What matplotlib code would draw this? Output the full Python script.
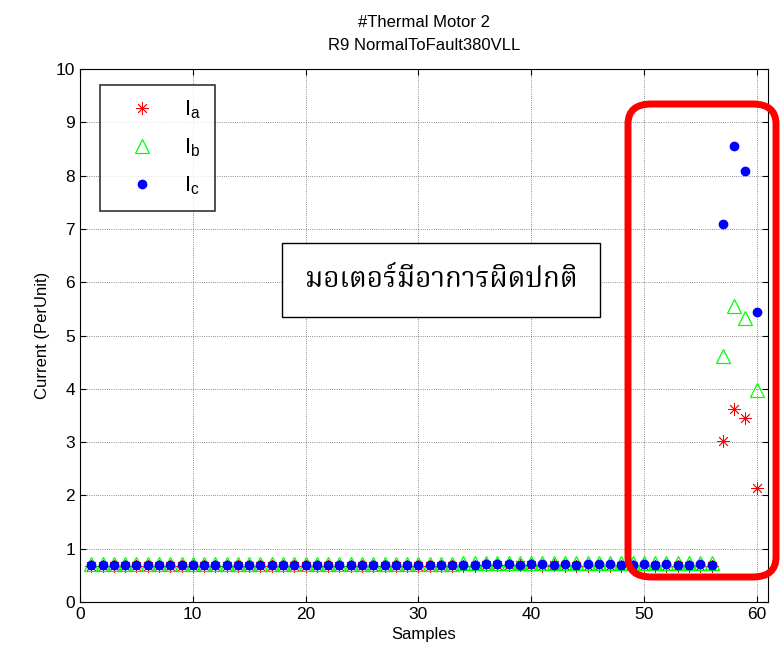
import numpy as np
import matplotlib
matplotlib.use('Agg')
from matplotlib import pyplot as plt
from matplotlib.patches import FancyBboxPatch

# samples 1..60, normal up to 56 then fault
samples = np.arange(1, 61)
ia = [0.67, 0.67, 0.67, 0.67, 0.67, 0.67, 0.67, 0.67, 0.67, 0.67,
      0.67, 0.67, 0.67, 0.67, 0.67, 0.67, 0.67, 0.67, 0.67, 0.67,
      0.67, 0.67, 0.67, 0.67, 0.67, 0.67, 0.67, 0.67, 0.67, 0.67,
      0.67, 0.67, 0.68, 0.68, 0.68, 0.69, 0.69, 0.69, 0.69, 0.69,
      0.68, 0.69, 0.68, 0.68, 0.68, 0.68, 0.68, 0.68, 0.68, 0.68,
      0.68, 0.68, 0.68, 0.68, 0.68, 0.68, 3.02, 3.62, 3.45, 2.13]
ib = [0.72, 0.72, 0.72, 0.72, 0.72, 0.72, 0.72, 0.72, 0.72, 0.72,
      0.72, 0.72, 0.72, 0.72, 0.72, 0.72, 0.72, 0.72, 0.72, 0.72,
      0.72, 0.72, 0.72, 0.72, 0.72, 0.72, 0.72, 0.72, 0.72, 0.72,
      0.72, 0.72, 0.72, 0.73, 0.74, 0.74, 0.74, 0.74, 0.74, 0.74,
      0.74, 0.74, 0.73, 0.74, 0.74, 0.74, 0.74, 0.73, 0.73, 0.73,
      0.73, 0.73, 0.73, 0.73, 0.73, 0.73, 4.62, 5.55, 5.32, 3.98]
ic = [0.70, 0.70, 0.70, 0.70, 0.70, 0.70, 0.70, 0.70, 0.70, 0.70,
      0.70, 0.70, 0.70, 0.70, 0.70, 0.70, 0.70, 0.70, 0.70, 0.70,
      0.70, 0.70, 0.70, 0.70, 0.70, 0.70, 0.70, 0.70, 0.70, 0.70,
      0.70, 0.70, 0.70, 0.70, 0.70, 0.71, 0.71, 0.71, 0.70, 0.72,
      0.72, 0.70, 0.71, 0.70, 0.72, 0.71, 0.71, 0.70, 0.70, 0.71,
      0.70, 0.71, 0.70, 0.70, 0.71, 0.70, 7.10, 8.55, 8.08, 5.45]
labels = [r'$\mathregular{I_a}$', r'$\mathregular{I_b}$', r'$\mathregular{I_c}$']
thai_text = 'มอเตอร์มีอาการผิดปกติ'

plt.rcParams['font.family'] = ['Liberation Sans', 'DejaVu Sans']
plt.rcParams['xtick.direction'] = 'in'
plt.rcParams['ytick.direction'] = 'in'

fig = plt.figure(figsize=(7.8, 6.64), dpi=100)
ax = fig.add_axes([0.1026, 0.0934, 0.882, 0.8026])

ax.plot(samples, ia, ls='none', marker=(8, 2, 0), ms=9, color='red', mew=0.6, label=labels[0])
ax.plot(samples, ib, ls='none', marker='^', ms=10, mfc='none', mec='#00ff00', mew=0.9, label=labels[1])
ax.plot(samples, ic, ls='none', marker='o', ms=6, color='blue', label=labels[2])

ax.set_xlim(0, 61)
ax.set_ylim(0, 10)
ax.set_xticks(range(0, 61, 10))
ax.set_yticks(range(0, 11))
ax.grid(True, color='black', ls=':', lw=0.6, alpha=0.6)
ax.tick_params(labelsize=12.5, top=True, right=True, length=4)
ax.set_xlabel('Samples', fontsize=12)
ax.set_ylabel('Current (PerUnit)', fontsize=12)
ax.set_title('#Thermal Motor 2\nR9 NormalToFault380VLL', fontsize=12, pad=14,
             linespacing=1.6)

leg = ax.legend(loc='upper left', bbox_to_anchor=(0.029, 0.970), fontsize=16,
                frameon=True, fancybox=False, edgecolor='black', labelspacing=0.7,
                handletextpad=0.6, borderpad=0.6, handlelength=2.6,
                borderaxespad=0)
leg.get_frame().set_linewidth(1.2)

ax.text(32.0, 6.04, thai_text, fontsize=20, ha='center', va='center',
        family=['Noto Serif Thai', 'Noto Sans Thai', 'Loma', 'Garuda', 'Norasi',
                'DejaVu Sans', 'Noto Sans'],
        bbox=dict(boxstyle='square,pad=0.82', fc='white', ec='black', lw=1))

# red rounded highlight box (figure pixels)
W, H = 780, 664
box = FancyBboxPatch((628 / W, (H - 577) / H), 148 / W, 473 / H,
                     boxstyle='round,pad=0,rounding_size=0.03',
                     transform=fig.transFigure, fill=False, ec='red', lw=5,
                     clip_on=False)
fig.patches.append(box)

fig.savefig('out.png', dpi=100)
